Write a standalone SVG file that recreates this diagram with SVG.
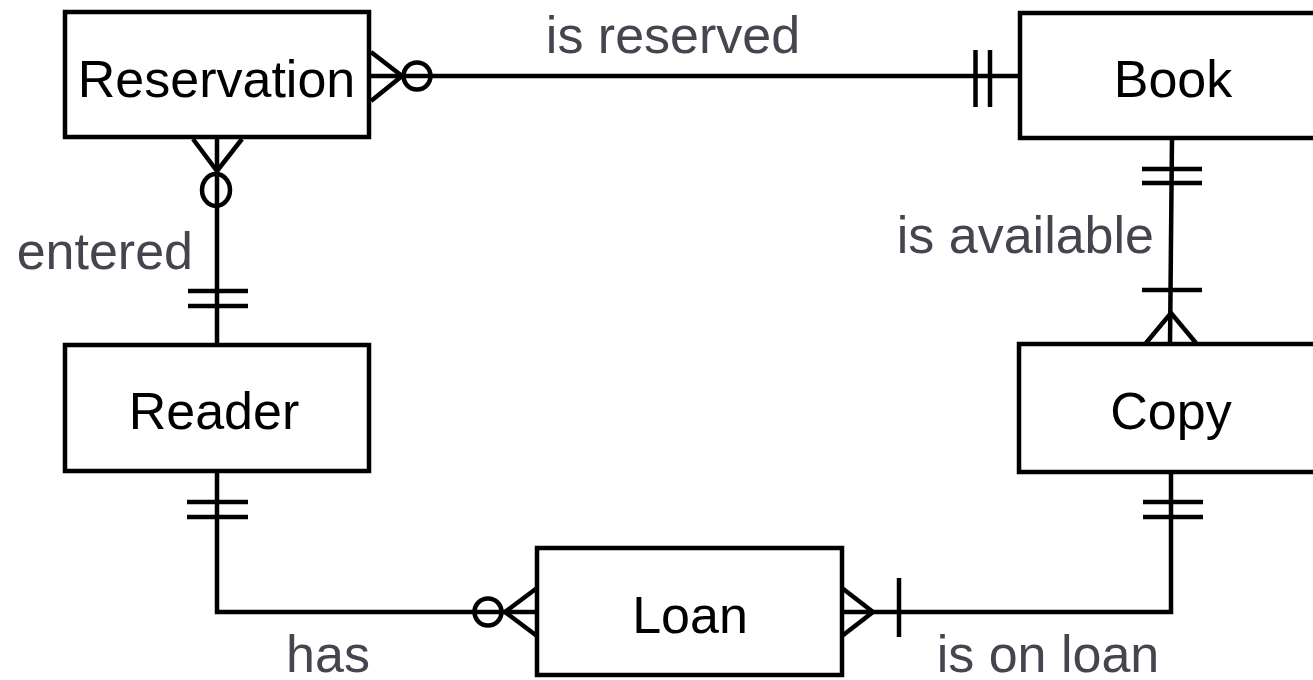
<svg xmlns="http://www.w3.org/2000/svg" width="1313" height="680" viewBox="0 0 1313 680">
<style>
.box{fill:#fff;stroke:#000;stroke-width:4.5}
.name{font-family:"Liberation Sans",Arial,sans-serif;font-size:52px;fill:#000;text-anchor:middle}
.lbl{font-family:"Liberation Sans",Arial,sans-serif;font-size:52px;fill:#46444f}
.ln{fill:none;stroke:#000;stroke-width:4.5}
</style>
<rect width="1313" height="680" fill="#fff"/>
<g id="connectors" class="ln">
  <g id="c-reservation-book">
    <line x1="369" y1="76" x2="1020" y2="76"/>
    <polyline points="371,52 402,76 371,101"/>
    <circle cx="417" cy="76" r="13.5"/>
    <line x1="975.5" y1="50" x2="975.5" y2="107"/>
    <line x1="990" y1="50" x2="990" y2="107"/>
  </g>
  <g id="c-reservation-reader">
    <line x1="217" y1="137" x2="217" y2="345"/>
    <polyline points="193,139 217,171 242,139"/>
    <ellipse cx="216" cy="190" rx="14" ry="16"/>
    <line x1="188" y1="291" x2="248" y2="291"/>
    <line x1="188" y1="306" x2="248" y2="306"/>
  </g>
  <g id="c-book-copy">
    <line x1="1172" y1="138" x2="1170" y2="344"/>
    <line x1="1142" y1="169" x2="1202" y2="169"/>
    <line x1="1142" y1="183" x2="1202" y2="183"/>
    <line x1="1142" y1="290" x2="1202" y2="290"/>
    <polyline points="1146,343 1171,313 1196,343"/>
  </g>
  <g id="c-reader-loan">
    <polyline points="217,471 217,612 537,612"/>
    <line x1="187" y1="502" x2="248" y2="502"/>
    <line x1="187" y1="517" x2="248" y2="517"/>
    <polyline points="537,588 505,612 537,636"/>
    <circle cx="488" cy="612" r="13.5"/>
  </g>
  <g id="c-copy-loan">
    <polyline points="1171,472 1171,612 842,612"/>
    <line x1="1143" y1="502" x2="1203" y2="502"/>
    <line x1="1143" y1="517" x2="1203" y2="517"/>
    <polyline points="842,588 873,612 842,636"/>
    <line x1="899" y1="578" x2="899" y2="637"/>
  </g>
</g>
<g id="labels">
  <text class="lbl" x="673" y="53" text-anchor="middle">is reserved</text>
  <text class="lbl" x="193" y="269" text-anchor="end">entered</text>
  <text class="lbl" x="1154" y="253" text-anchor="end">is available</text>
  <text class="lbl" x="328" y="672" text-anchor="middle">has</text>
  <text class="lbl" x="1048" y="672" text-anchor="middle">is on loan</text>
</g>
<g id="node-reservation">
  <rect class="box" x="65" y="12" width="304" height="125"/>
  <text class="name" x="216.5" y="97">Reservation</text>
</g>
<g id="node-book">
  <rect class="box" x="1020" y="13" width="320" height="125"/>
  <text class="name" x="1173" y="97">Book</text>
</g>
<g id="node-reader">
  <rect class="box" x="65" y="345" width="304" height="126"/>
  <text class="name" x="214" y="429">Reader</text>
</g>
<g id="node-copy">
  <rect class="box" x="1019" y="344" width="320" height="128"/>
  <text class="name" x="1171" y="429">Copy</text>
</g>
<g id="node-loan">
  <rect class="box" x="537" y="548" width="305" height="127"/>
  <text class="name" x="690" y="633">Loan</text>
</g>
</svg>
